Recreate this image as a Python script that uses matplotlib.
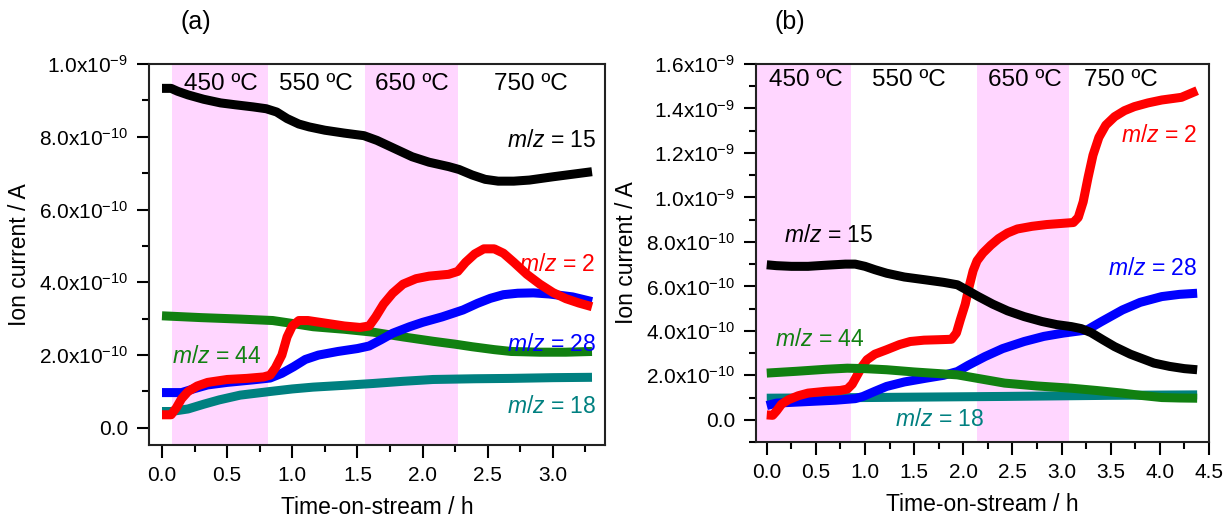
import matplotlib.pyplot as plt
from matplotlib.ticker import MultipleLocator, FuncFormatter

plt.rcParams['font.family'] = ['Liberation Sans', 'DejaVu Sans']
plt.rcParams['mathtext.fontset'] = 'custom'
plt.rcParams['mathtext.rm'] = 'Liberation Sans'
plt.rcParams['mathtext.it'] = 'Liberation Sans:italic'

# ---- panel (a): time (h) and ion current (units of 1e-10 A) ----
ta_15 = [0.0, 0.07, 0.12, 0.2, 0.32, 0.45, 0.56, 0.7, 0.8, 0.88, 0.96, 1.05, 1.13, 1.25,
         1.4, 1.55, 1.65, 1.8, 1.92, 2.05, 2.2, 2.28, 2.38, 2.48, 2.58, 2.7, 2.82, 3.0,
         3.15, 3.3]
ya_15 = [9.33, 9.33, 9.25, 9.15, 9.03, 8.93, 8.88, 8.82, 8.77, 8.68, 8.5, 8.35, 8.27, 8.18,
         8.1, 8.03, 7.9, 7.65, 7.45, 7.3, 7.18, 7.1, 6.95, 6.83, 6.78, 6.78, 6.81, 6.9,
         6.97, 7.04]

ta_2 = [0.0, 0.07, 0.11, 0.15, 0.2, 0.27, 0.35, 0.5, 0.65, 0.78, 0.83, 0.87, 0.92, 0.96,
        1.0, 1.05, 1.12, 1.25, 1.4, 1.52, 1.59, 1.64, 1.7, 1.77, 1.85, 1.95, 2.05, 2.2,
        2.27, 2.33, 2.4, 2.47, 2.55, 2.62, 2.7, 2.8, 2.9, 3.0, 3.1, 3.2, 3.3]
ya_2 = [0.36, 0.36, 0.55, 0.8, 1.0, 1.15, 1.25, 1.33, 1.36, 1.4, 1.45, 1.65, 2.0, 2.5,
        2.8, 2.95, 2.95, 2.88, 2.8, 2.76, 2.8, 3.05, 3.4, 3.7, 3.95, 4.1, 4.17, 4.22,
        4.3, 4.55, 4.78, 4.92, 4.92, 4.8, 4.55, 4.22, 3.95, 3.72, 3.55, 3.43, 3.33]

ta_28 = [0.0, 0.15, 0.25, 0.35, 0.5, 0.7, 0.83, 0.92, 1.01, 1.1, 1.2, 1.35, 1.5, 1.59,
         1.68, 1.77, 1.9, 2.0, 2.15, 2.31, 2.42, 2.52, 2.62, 2.73, 2.85, 2.97, 3.15, 3.3]
ya_28 = [0.97, 0.97, 1.08, 1.18, 1.25, 1.32, 1.37, 1.5, 1.68, 1.88, 2.0, 2.1, 2.18, 2.25,
         2.42, 2.6, 2.78, 2.9, 3.05, 3.24, 3.42, 3.56, 3.66, 3.7, 3.71, 3.68, 3.6, 3.47]

ta_44 = [0.0, 0.3, 0.6, 0.85, 1.0, 1.16, 1.4, 1.62, 1.85, 2.08, 2.25, 2.38, 2.55, 2.68,
         2.9, 3.1, 3.3]
ya_44 = [3.08, 3.03, 2.99, 2.95, 2.87, 2.78, 2.71, 2.63, 2.5, 2.38, 2.3, 2.23, 2.15, 2.1,
         2.08, 2.08, 2.1]

ta_18 = [0.0, 0.07, 0.2, 0.32, 0.44, 0.6, 0.83, 1.0, 1.16, 1.4, 1.62, 1.85, 2.08, 2.4,
         2.68, 3.0, 3.3]
ya_18 = [0.45, 0.45, 0.52, 0.65, 0.77, 0.9, 1.0, 1.07, 1.12, 1.17, 1.22, 1.28, 1.33, 1.35,
         1.36, 1.38, 1.39]

# ---- panel (b) ----
tb_15 = [0.0, 0.1, 0.25, 0.42, 0.6, 0.8, 0.9, 1.0, 1.1, 1.22, 1.4, 1.62, 1.8, 1.94, 2.05,
         2.15, 2.3, 2.45, 2.62, 2.8, 2.95, 3.1, 3.2, 3.3, 3.42, 3.54, 3.7, 3.85, 3.94, 4.1,
         4.25, 4.38]
yb_15 = [6.97, 6.93, 6.9, 6.9, 6.95, 7.0, 7.0, 6.9, 6.75, 6.59, 6.42, 6.29, 6.18, 6.07, 5.8,
         5.55, 5.2, 4.9, 4.64, 4.42, 4.28, 4.19, 4.1, 3.92, 3.6, 3.29, 2.95, 2.7, 2.55, 2.4,
         2.3, 2.25]

tb_2 = [0.0, 0.06, 0.1, 0.15, 0.22, 0.32, 0.42, 0.6, 0.75, 0.82, 0.87, 0.92, 0.97, 1.02,
        1.1, 1.22, 1.35, 1.46, 1.6, 1.75, 1.88, 1.93, 1.97, 2.02, 2.06, 2.1, 2.14, 2.2,
        2.28, 2.36, 2.45, 2.55, 2.7, 2.85, 3.0, 3.12, 3.17, 3.22, 3.27, 3.32, 3.38, 3.45,
        3.54, 3.64, 3.74, 3.88, 4.02, 4.22, 4.38]
yb_2 = [0.22, 0.2, 0.4, 0.7, 0.9, 1.08, 1.2, 1.28, 1.32, 1.38, 1.6, 2.0, 2.4, 2.7,
        2.95, 3.15, 3.38, 3.52, 3.58, 3.6, 3.62, 3.9, 4.5, 5.2, 6.0, 6.7, 7.15, 7.5,
        7.85, 8.15, 8.4, 8.58, 8.7, 8.78, 8.83, 8.87, 9.1, 9.8, 10.9, 11.9, 12.7, 13.25,
        13.63, 13.9, 14.08, 14.25, 14.38, 14.5, 14.8]

tb_28 = [0.0, 0.1, 0.42, 0.7, 0.9, 0.98, 1.1, 1.22, 1.4, 1.62, 1.8, 1.94, 2.05, 2.22, 2.4,
         2.62, 2.82, 3.02, 3.26, 3.4, 3.62, 3.8, 4.02, 4.2, 4.38]
yb_28 = [0.64, 0.75, 0.82, 0.88, 0.95, 1.05, 1.28, 1.5, 1.7, 1.87, 2.0, 2.17, 2.45, 2.84,
         3.2, 3.52, 3.75, 3.9, 4.04, 4.4, 4.94, 5.28, 5.54, 5.64, 5.69]

tb_44 = [0.0, 0.3, 0.6, 0.82, 1.0, 1.22, 1.5, 1.94, 2.2, 2.42, 2.75, 3.1, 3.35, 3.62, 3.8,
         4.02, 4.2, 4.38]
yb_44 = [2.1, 2.18, 2.27, 2.32, 2.3, 2.25, 2.15, 2.02, 1.82, 1.65, 1.52, 1.42, 1.32, 1.2,
         1.1, 1.0, 0.98, 0.97]

tb_18 = [0.0, 1.0, 2.42, 3.5, 4.38]
yb_18 = [0.97, 1.0, 1.05, 1.1, 1.12]

bands_a = [(0.08, 0.81), (1.56, 2.27)]
bands_b = [(-0.2, 0.86), (2.14, 3.08)]
temps = ['450 ºC', '550 ºC', '650 ºC', '750 ºC']
temp_x_a = [0.45, 1.18, 1.92, 2.83]
temp_x_b = [0.4, 1.45, 2.63, 3.6]

xticks_a = [0.0, 0.5, 1.0, 1.5, 2.0, 2.5, 3.0]
xticks_b = [0.0, 0.5, 1.0, 1.5, 2.0, 2.5, 3.0, 3.5, 4.0, 4.5]
yticks_a = [0.0, 2e-10, 4e-10, 6e-10, 8e-10, 1e-9]
yticks_b = [0.0, 2e-10, 4e-10, 6e-10, 8e-10, 1e-9, 1.2e-9, 1.4e-9, 1.6e-9]

colors = {'15': 'black', '2': '#ff0000', '28': '#0000ff', '44': '#118011', '18': '#008080'}


def sci(v, pos):
    if abs(v) < 1e-14:
        return '0.0'
    exp = int(f'{v:.1e}'.split('e')[1])
    mant = v / 10 ** exp
    return f'{mant:.1f}x10$^{{{exp}}}$'


fig = plt.figure(figsize=(12.25, 5.21), dpi=100)
ax_a = fig.add_axes([0.1216, 0.1459, 0.3723, 0.7313])
ax_b = fig.add_axes([0.6171, 0.1516, 0.3698, 0.7256])


def style(ax, xlim, ylim, xt, yt):
    ax.set_xlim(*xlim)
    ax.set_ylim(*ylim)
    ax.set_xticks(xt)
    ax.set_yticks(yt)
    ax.xaxis.set_minor_locator(MultipleLocator(0.25))
    ax.yaxis.set_minor_locator(MultipleLocator(1e-10))
    ax.xaxis.set_major_formatter(FuncFormatter(lambda v, p: f'{v:.1f}'))
    ax.yaxis.set_major_formatter(FuncFormatter(sci))
    ax.tick_params(which='major', direction='out', length=9, width=1.5, labelsize=15, pad=6)
    ax.tick_params(which='minor', direction='out', length=5, width=1.5)
    for s in ax.spines.values():
        s.set_linewidth(1.5)
        s.set_color('#222222')
    ax.set_xlabel('Time-on-stream / h', fontsize=16.5, labelpad=8)
    ax.set_ylabel('Ion current / A', fontsize=16.5, labelpad=6)


def curve(ax, t, y, key):
    ax.plot(t, [v * 1e-10 for v in y], color=colors[key], lw=6.5,
            solid_capstyle='butt', solid_joinstyle='round')


lab_kw = dict(fontsize=16.5)
temp_fs = 17.5

# panel (a)
for lo, hi in bands_a:
    ax_a.axvspan(lo, hi, color='#ffd6ff', lw=0)
curve(ax_a, ta_18, ya_18, '18')
curve(ax_a, ta_44, ya_44, '44')
curve(ax_a, ta_28, ya_28, '28')
curve(ax_a, ta_2, ya_2, '2')
curve(ax_a, ta_15, ya_15, '15')
style(ax_a, (-0.1, 3.4), (-0.47e-10, 1.0e-9), xticks_a, yticks_a)
for tx, lab in zip(temp_x_a, temps):
    ax_a.text(tx, 0.945e-9, lab, ha='center', va='center', fontsize=temp_fs)
ax_a.text(3.33, 7.9e-10, '$m/z$ = 15', ha='right', va='center', color='black', **lab_kw)
ax_a.text(3.33, 4.5e-10, '$m/z$ = 2', ha='right', va='center', color='#ff0000', **lab_kw)
ax_a.text(3.33, 2.3e-10, '$m/z$ = 28', ha='right', va='center', color='#0000ff', **lab_kw)
ax_a.text(0.08, 1.95e-10, '$m/z$ = 44', ha='left', va='center', color='#118011', **lab_kw)
ax_a.text(3.33, 0.6e-10, '$m/z$ = 18', ha='right', va='center', color='#008080', **lab_kw)
fig.text(0.16, 0.958, '(a)', fontsize=18, ha='center', va='center')

# panel (b)
for lo, hi in bands_b:
    ax_b.axvspan(lo, hi, color='#ffd6ff', lw=0)
curve(ax_b, tb_18, yb_18, '18')
curve(ax_b, tb_28, yb_28, '28')
curve(ax_b, tb_2, yb_2, '2')
curve(ax_b, tb_15, yb_15, '15')
curve(ax_b, tb_44, yb_44, '44')
style(ax_b, (-0.11, 4.5), (-1.0e-10, 1.6e-9), xticks_b, yticks_b)
for tx, lab in zip(temp_x_b, temps):
    ax_b.text(tx, 1.53e-9, lab, ha='center', va='center', fontsize=temp_fs)
ax_b.text(0.18, 8.3e-10, '$m/z$ = 15', ha='left', va='center', color='black', **lab_kw)
ax_b.text(4.38, 1.28e-9, '$m/z$ = 2', ha='right', va='center', color='#ff0000', **lab_kw)
ax_b.text(4.38, 6.8e-10, '$m/z$ = 28', ha='right', va='center', color='#0000ff', **lab_kw)
ax_b.text(0.08, 3.6e-10, '$m/z$ = 44', ha='left', va='center', color='#118011', **lab_kw)
ax_b.text(1.3, 0.0, '$m/z$ = 18', ha='left', va='center', color='#008080', **lab_kw)
fig.text(0.645, 0.958, '(b)', fontsize=18, ha='center', va='center')

fig.savefig('out.png', dpi=100)
